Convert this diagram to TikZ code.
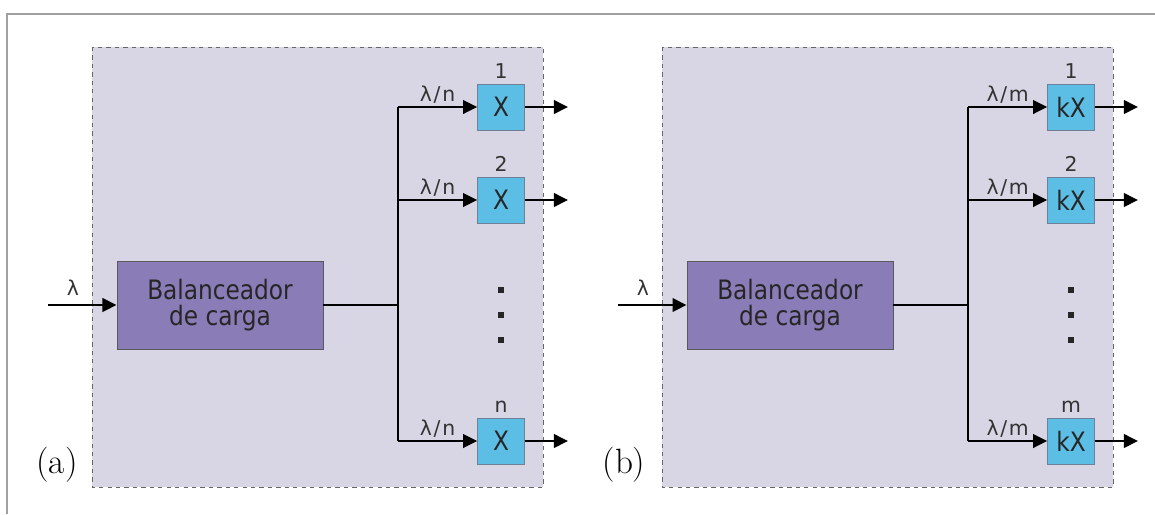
\documentclass[tikz,border=0pt]{standalone}
\usepackage{fontspec}
\setmainfont{DejaVu Sans}
\newfontfamily\condsans{DejaVu Sans}[FakeStretch=0.87]
\newfontfamily\labelserif{Latin Modern Roman}
\usetikzlibrary{
  arrows.meta,  % Triangle 箭头
  positioning   % 节点相对定位
}
\definecolor{panelbg}{HTML}{D8D6E4}
\definecolor{balfill}{HTML}{8A7CB6}
\definecolor{srvfill}{HTML}{5CBDE5}
\definecolor{srvdraw}{HTML}{6F8196}
\definecolor{framegray}{HTML}{A0A0A0}
\newcommand{\ratio}[1]{λ\kern1.2pt/\kern1.2pt#1}
\tikzset{
  panel/.style={
    fill=panelbg,
    draw=black!60,
    dashed,
    line width=0.7pt
  },
  balancer/.style={
    rectangle,
    fill=balfill,
    draw=black!65,
    line width=0.6pt,
    minimum width=5.15cm,
    minimum height=2.2cm,
    align=center,
    font=\condsans\fontsize{19}{18}\selectfont,
    text=black!85
  },
  server/.style={
    rectangle,
    fill=srvfill,
    draw=srvdraw,
    line width=0.6pt,
    minimum width=1.17cm,
    minimum height=1.15cm,
    inner sep=0pt,
    font=\condsans\fontsize{19}{20}\selectfont,
    text=black!85
  },
  flow/.style={
    -{Triangle[length=10pt,width=9.5pt]},
    line width=1.9pt
  },
  wire/.style={
    line width=1.9pt
  },
  rate label/.style={
    font=\fontsize{14.5}{15}\selectfont,
    text=black!80,
    inner sep=1.5pt
  },
  index label/.style={
    font=\fontsize{14.5}{15}\selectfont,
    text=black!80
  },
  dot/.style={
    fill=black!85,
    minimum size=3.6pt,
    inner sep=0pt
  }
}

\begin{document}
\begin{tikzpicture}[x=0.025cm, y=-0.025cm]
  % 画布大小与外框（只有上边和左边）
  \useasboundingbox (0,0) rectangle (1155,514);
  \draw[framegray, line width=1.4pt] (7,514) -- (7,14) -- (1155,14);

  % ===== (a) 面板 =====
  \fill[panel] (92,47) rectangle (543,487);
  \node[balancer] (bal a) at (220,305) {Balanceador\\de carga};
  \coordinate (in a) at (48,305);
  \node[rate label] (lam a) at (73,288) {λ};
  \draw[flow] (in a) -- (bal a.west);

  % 总线与三个服务器
  \coordinate (bus a) at (398,305);
  \coordinate (bus top a) at (398,107);
  \coordinate (bus mid a) at (398,200);
  \coordinate (bus bot a) at (398,441);
  \draw[wire] (bal a.east) -- (bus a);
  \draw[wire] (bus top a) -- (bus bot a);

  \node[server] (x1 a) at (501,107) {X};
  \node[server] (x2 a) at (501,200) {X};
  \node[server] (xn a) at (501,441) {X};
  \node[index label, above=0pt of x1 a] {1};
  \node[index label, above=0pt of x2 a] {2};
  \node[index label, above=0pt of xn a] {n};

  \draw[flow] (bus top a) -- node[rate label, above] {\ratio{n}} (x1 a.west);
  \draw[flow] (bus mid a) -- node[rate label, above] {\ratio{n}} (x2 a.west);
  \draw[flow] (bus bot a) -- node[rate label, above] {\ratio{n}} (xn a.west);

  \coordinate (out1 a) at (568,107);
  \coordinate (out2 a) at (568,200);
  \coordinate (outn a) at (568,441);
  \draw[flow] (x1 a.east) -- (out1 a);
  \draw[flow] (x2 a.east) -- (out2 a);
  \draw[flow] (xn a.east) -- (outn a);

  % 省略号
  \node[dot] (d1 a) at (501,290) {};
  \node[dot] (d2 a) at (501,315) {};
  \node[dot] (d3 a) at (501,340) {};

  \node[font=\labelserif\fontsize{25}{27}\selectfont] (tag a) at (57,465) {(a)};

  % ===== (b) 面板 =====
  \fill[panel] (662,47) rectangle (1113,487);
  \node[balancer] (bal b) at (790,305) {Balanceador\\de carga};
  \coordinate (in b) at (618,305);
  \node[rate label] (lam b) at (643,288) {λ};
  \draw[flow] (in b) -- (bal b.west);

  \coordinate (bus b) at (968,305);
  \coordinate (bus top b) at (968,107);
  \coordinate (bus mid b) at (968,200);
  \coordinate (bus bot b) at (968,441);
  \draw[wire] (bal b.east) -- (bus b);
  \draw[wire] (bus top b) -- (bus bot b);

  \node[server] (x1 b) at (1071,107) {kX};
  \node[server] (x2 b) at (1071,200) {kX};
  \node[server] (xm b) at (1071,441) {kX};
  \node[index label, above=0pt of x1 b] {1};
  \node[index label, above=0pt of x2 b] {2};
  \node[index label, above=0pt of xm b] {m};

  \draw[flow] (bus top b) -- node[rate label, above] {\ratio{m}} (x1 b.west);
  \draw[flow] (bus mid b) -- node[rate label, above] {\ratio{m}} (x2 b.west);
  \draw[flow] (bus bot b) -- node[rate label, above] {\ratio{m}} (xm b.west);

  \coordinate (out1 b) at (1138,107);
  \coordinate (out2 b) at (1138,200);
  \coordinate (outm b) at (1138,441);
  \draw[flow] (x1 b.east) -- (out1 b);
  \draw[flow] (x2 b.east) -- (out2 b);
  \draw[flow] (xm b.east) -- (outm b);

  \node[dot] (d1 b) at (1071,290) {};
  \node[dot] (d2 b) at (1071,315) {};
  \node[dot] (d3 b) at (1071,340) {};

  \node[font=\labelserif\fontsize{25}{27}\selectfont] (tag b) at (624,465) {(b)};
\end{tikzpicture}
\end{document}
